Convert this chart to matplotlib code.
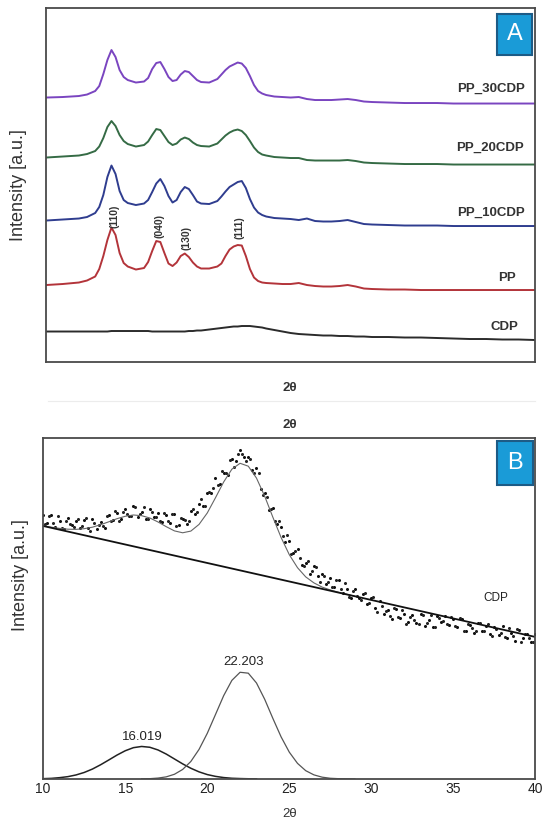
import matplotlib
matplotlib.use("Agg")
import matplotlib.pyplot as plt
from matplotlib.lines import Line2D
from matplotlib.patches import Rectangle

plt.rcParams['font.family'] = ['Liberation Sans', 'DejaVu Sans']

# ---------- panel A : XRD patterns (2theta, intensity a.u. with offsets) ----------
two_theta_a = [10, 11, 12, 12.5, 13, 13.25, 13.5, 13.75, 14.0, 14.25,
               14.5, 14.75, 15.0, 15.5, 16.0, 16.25, 16.5, 16.75, 17.0, 17.25,
               17.5, 17.75, 18.0, 18.25, 18.5, 18.75, 19.0, 19.25, 19.5, 20.0,
               20.5, 20.75, 21.0, 21.25, 21.5, 21.75, 22.0, 22.25, 22.5, 22.75,
               23.0, 23.25, 23.5, 24.0, 24.5, 25.0, 25.5, 26.0, 26.5, 27,
               27.5, 28, 28.5, 29, 29.5, 30, 31, 32, 33, 34,
               35, 36, 37, 38, 39, 40]

pp30 = [264.5, 265, 266, 267.5, 271, 276, 288, 302, 312, 305,
        292, 285, 282, 279.5, 280.5, 284, 293, 299, 300, 293,
        285, 281, 282, 287.5, 291, 290, 286, 282, 280, 279.5,
        283, 287.5, 292, 295.5, 297.5, 299.5, 298.5, 294, 286, 277,
        271, 268.5, 267, 265.5, 265, 264.5, 265, 263, 262, 262,
        262, 262.5, 263, 262, 260.5, 260, 259.5, 259, 259, 259,
        258.5, 258.5, 258.5, 258.5, 258.5, 258.5]

pp20 = [204.5, 205.5, 206.5, 208, 211, 215.5, 224, 235, 241, 236,
        227, 221, 218, 215.5, 217, 220.5, 227, 233, 232, 226,
        220, 217, 218.5, 222.5, 224.5, 223, 219.5, 217, 216, 215.5,
        218.5, 222.5, 226.5, 229.5, 231.5, 232.5, 231, 227, 221, 214.5,
        210, 207.5, 206.5, 205, 204.5, 204, 204, 202, 201.5, 201.5,
        201.5, 201.5, 202, 201, 199.5, 199, 198.5, 198, 198, 198,
        197.5, 197.5, 197.5, 197.5, 197.5, 197.5]

pp10 = [141.5, 142.5, 143.5, 145, 149, 155, 167, 185, 196.5, 188,
        171, 162, 159, 157, 158.5, 162, 170, 178.5, 183, 176,
        166, 159.5, 162, 170, 175, 173, 167, 160.5, 158.5, 158,
        161, 165.5, 170.5, 175, 177.5, 180, 181, 174, 163, 154.5,
        149.5, 147, 145.5, 144, 143.5, 143, 142, 143.5, 141, 140.5,
        140.5, 141, 142, 140, 138, 137.5, 137, 136.5, 136.5, 136.5,
        136, 136, 136, 136, 136, 136]

pp = [77, 78, 79.5, 81.5, 85.5, 93, 106, 122, 134.5, 127,
      109, 99, 95.5, 92.5, 94, 100, 111, 121, 120, 109,
      98.5, 96, 99.5, 106, 108.5, 105, 99.5, 95.5, 93.5, 93.5,
      95.5, 98.5, 106, 112.5, 115.5, 117, 116.5, 106, 93, 84.5,
      81, 79.5, 79, 78.5, 78, 78, 79, 77, 76, 75.5,
      75.5, 76, 77, 75.5, 73.5, 73, 72.5, 72.5, 72, 72,
      72, 72, 72, 72, 72, 72]

cdp = [30.5, 30.5, 30.5, 30.5, 30.5, 30.5, 30.5, 30.5, 31, 31,
       31, 31, 31, 31, 31, 31, 30.5, 30.5, 30.5, 30.5,
       30.5, 30.5, 30.5, 30.5, 30.5, 31, 31, 31.5, 31.5, 32.5,
       33.5, 34, 34.5, 35, 35.5, 35.5, 36, 36, 36, 35.5,
       35, 34.5, 33.5, 32, 30.5, 29, 28, 27.5, 27, 26.5,
       26.5, 26, 26, 25.5, 25.5, 25, 25, 24.5, 24.5, 24,
       23.5, 23, 23, 22.5, 22.5, 22]

series_names = ["PP_30CDP", "PP_20CDP", "PP_10CDP", "PP", "CDP"]
series_colors = ["#7a45c0", "#356b45", "#2f3d8f", "#b3343a", "#2b2b2b"]
name_xy = [(39.4, 273.7), (39.3, 214.3), (39.4, 149.7), (38.8, 84.3), (39.0, 35.3)]

hkl_labels = ["(110)", "(040)", "(130)", "(111)"]
hkl_xy = [(14.16, 146), (16.95, 136), (18.63, 124), (21.89, 134)]

# ---------- panel B : CDP deconvolution ----------
scan_x_a = [10 + 0.25 * i for i in range(121)]
scan_y_a = [264, 256, 264, 252, 258, 250, 261, 254, 258, 251,
            259, 251, 260, 250, 257, 251, 264, 259, 266, 260,
            270, 263, 273, 262, 267, 260, 270, 262, 266, 257,
            264, 256, 265, 254, 260, 255, 268, 265, 275, 273,
            286, 286, 301, 295, 306, 304, 320, 318, 329, 322,
            322, 309, 311, 290, 286, 269, 271, 255, 252, 237,
            238, 226, 230, 214, 216, 205, 213, 203, 205, 195,
            201, 192, 199, 186, 190, 181, 190, 181, 185, 175,
            181, 171, 178, 165, 169, 160, 170, 161, 165, 157,
            164, 156, 165, 153, 159, 152, 163, 157, 163, 154,
            160, 152, 160, 148, 154, 146, 156, 148, 153, 145,
            152, 144, 153, 141, 146, 138, 149, 141, 145, 137,
            145]
scan_x_b = [10.125 + 0.25 * j for j in range(120)]
scan_y_b = [255, 263, 256, 263, 251, 258, 255, 252, 260, 253,
            261, 248, 256, 254, 253, 263, 258, 268, 258, 267,
            265, 263, 272, 265, 272, 260, 267, 262, 258, 266,
            258, 265, 253, 261, 259, 258, 270, 267, 280, 273,
            287, 291, 294, 308, 306, 319, 312, 325, 325, 318,
            320, 306, 306, 284, 282, 270, 258, 258, 243, 244,
            225, 228, 221, 213, 218, 208, 212, 197, 203, 197,
            192, 199, 190, 196, 182, 188, 183, 179, 186, 176,
            182, 167, 173, 168, 163, 171, 162, 169, 155, 162,
            159, 155, 164, 156, 164, 152, 161, 158, 155, 162,
            153, 161, 148, 155, 151, 148, 156, 148, 155, 143,
            150, 146, 142, 151, 143, 150, 137, 145, 141, 137]

baseline_x = [10, 40]
baseline_y = [253, 142]

fit_x = [10 + 0.5 * i for i in range(39)]
fit_y = [253.3, 251.8, 250.6, 249.8, 249.6, 250.3, 251.8, 254.3, 257.2, 260.3,
         262.7, 264.0, 263.3, 261.0, 257.0, 252.3, 248.1, 246.2, 247.9, 254.6,
         266.0, 281.2, 297.0, 309.8, 315.7, 312.8, 300.9, 282.8, 261.7, 241.5,
         224.3, 211.3, 202.1, 196.1, 191.9, 189.0, 186.7, 184.7, 182.7]

peak1_x = [10 + 0.5 * i for i in range(27)]
peak1_y = [0.3, 0.6, 1.3, 2.3, 4.0, 6.5, 9.9, 14.2, 19.0, 23.9,
           28.2, 31.3, 32.5, 31.7, 29.0, 24.9, 20.0, 15.1, 10.7, 7.1,
           4.4, 2.6, 1.4, 0.7, 0.4, 0.2, 0.1]
peak2_x = [16 + 0.5 * i for i in range(27)]
peak2_y = [0.1, 0.3, 0.9, 2.1, 4.7, 9.5, 17.5, 29.6, 45.6, 64.4,
           83.3, 98.6, 106.7, 105.8, 96.0, 79.7, 60.5, 42.1, 26.8, 15.6,
           8.3, 4.1, 1.8, 0.7, 0.3, 0.1, 0.0]

peak_labels = ["16.019", "22.203"]
peak_label_xy = [(16.02, 42), (22.2, 117)]
xticks_b = [10, 15, 20, 25, 30, 35, 40]

# ---------- figure ----------
fig = plt.figure(figsize=(5.5, 8.25), dpi=100)
spine_c = "#4a4a4a"

axA = fig.add_axes([0.0842, 0.5612, 0.8885, 0.4287])
for ys, c in zip([pp30, pp20, pp10, pp, cdp], series_colors):
    axA.plot(two_theta_a, ys, color=c, lw=1.4, solid_joinstyle="round")
for name, (x, y) in zip(series_names, name_xy):
    axA.text(x, y, name, ha="right", va="center", fontsize=9.5,
             fontweight="bold", color="#333333")
for lab, (x, y) in zip(hkl_labels, hkl_xy):
    axA.text(x, y, lab, rotation=90, ha="center", va="center", fontsize=7.5,
             fontweight="bold", color="#333333")
axA.set_xlim(10, 40)
axA.set_ylim(0, 353.7)
axA.set_xticks([])
axA.set_yticks([])
for s in axA.spines.values():
    s.set_color(spine_c)
    s.set_linewidth(1.3)

axB = fig.add_axes([0.0785, 0.0558, 0.895, 0.4133])
axB.plot(scan_x_a, scan_y_a, ls="none", marker="o", ms=1.2, color="#111111")
axB.plot(scan_x_b, scan_y_b, ls="none", marker="o", ms=1.2, color="#222222")
axB.plot(fit_x, fit_y, color="#666666", lw=0.8)
axB.plot(baseline_x, baseline_y, color="#111111", lw=1.3)
axB.plot(peak1_x, peak1_y, color="#222222", lw=1.1)
axB.plot(peak2_x, peak2_y, color="#555555", lw=0.9)
for lab, (x, y) in zip(peak_labels, peak_label_xy):
    axB.text(x, y, lab, ha="center", va="center", fontsize=9.5, color="#222222")
axB.text(37.6, 181, "CDP", ha="center", va="center", fontsize=8.5, color="#222222")
axB.set_xlim(10, 40)
axB.set_ylim(0, 341)
axB.set_xticks(xticks_b)
axB.set_xticklabels([str(t) for t in xticks_b], fontsize=10, color="#222222")
axB.tick_params(axis="x", length=0, pad=2)
axB.set_yticks([])
for s in axB.spines.values():
    s.set_color(spine_c)
    s.set_linewidth(1.3)

# panel badges
for (x0, y0, w, h), letter in [((497, 14, 35, 41), "A"), ((497, 441, 36, 44), "B")]:
    fig.add_artist(Rectangle((x0 / 550, 1 - (y0 + h) / 825), w / 550, h / 825,
                             transform=fig.transFigure, facecolor="#1a9bd7",
                             edgecolor="#1d5b86", lw=1.5))
    fig.text((x0 + w / 2) / 550, 1 - (y0 + h / 2) / 825, letter, ha="center",
             va="center", fontsize=17, color="white")

# axis titles
fig.text(19 / 550, 1 - 185 / 825, "Intensity [a.u.]", rotation=90, ha="center",
         va="center", fontsize=13, color="#333333")
fig.text(21 / 550, 1 - 575 / 825, "Intensity [a.u.]", rotation=90, ha="center",
         va="center", fontsize=13, color="#333333")
fig.text(290 / 550, 1 - 388 / 825, "2θ", ha="center", va="center", fontsize=9.5,
         fontweight="bold", color="#333333")
fig.text(290 / 550, 1 - 425 / 825, "2θ", ha="center", va="center", fontsize=9.5,
         fontweight="bold", color="#333333")
fig.text(290 / 550, 1 - 814 / 825, "2θ", ha="center", va="center", fontsize=9.5,
         color="#333333")
fig.add_artist(Line2D([48 / 550, 535 / 550], [1 - 401 / 825, 1 - 401 / 825],
                      transform=fig.transFigure, color="#ececec", lw=0.8))

fig.savefig("out.png", dpi=100)
